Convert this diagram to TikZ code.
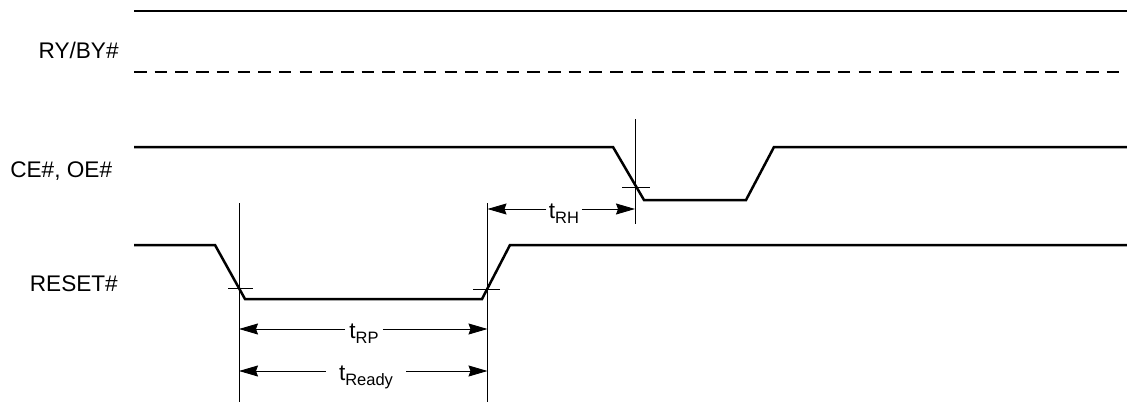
\documentclass[tikz,border=0pt]{standalone}
\usepackage{fontspec}
\setmainfont{Liberation Sans}
\usetikzlibrary{arrows.meta}
\newcommand{\tsub}[1]{t\raisebox{-5.5pt}{\fontsize{16.5}{18}\selectfont #1}}
\begin{document}
\begin{tikzpicture}[x=1pt,y=-1pt,
  sig/.style={line width=2.5pt, line join=miter},
  thinln/.style={line width=0.9pt},
  dim/.style={line width=0.9pt, -{Stealth[length=19pt,width=11pt,inset=2pt]}},
  lbl/.style={font=\fontsize{22.6}{27}\selectfont, anchor=base east, inner sep=0pt},
  tlbl/.style={font=\fontsize{22.6}{27}\selectfont, anchor=base, inner ysep=0pt}]
\useasboundingbox (0,0) rectangle (1127,404);

% signal names
\node[lbl] (ry) at (118.8,58.3) {RY/BY\#};
\node[lbl] (ce) at (112.3,177.3) {CE\#, OE\#};
\node[lbl] (rs) at (118,291.7) {RESET\#};

% waveforms
\draw[sig] (134,11) -- (1127,11);
\draw[sig, dash pattern=on 12.5pt off 8.2pt] (134,72) -- (1120,72);
\draw[sig] (134,147) -- (613,147) -- (644,200) -- (746,200) -- (774,147) -- (1127,147);
\draw[sig] (134,245) -- (215,245) -- (245,299) -- (482,299) -- (510,245) -- (1127,245);

% reference lines
\coordinate (v1t) at (239,203);  \coordinate (v1b) at (239,402);
\coordinate (v2t) at (487.5,203); \coordinate (v2b) at (487.5,402);
\coordinate (v3t) at (635,119);  \coordinate (v3b) at (635,224);
\draw[thinln] (v1t) -- (v1b);
\draw[thinln] (v2t) -- (v2b);
\draw[thinln] (v3t) -- (v3b);

% crossing ticks
\coordinate (k1a) at (228,288); \coordinate (k1b) at (253,288);
\coordinate (k2a) at (473,289); \coordinate (k2b) at (500,289);
\coordinate (k3a) at (622,187); \coordinate (k3b) at (650,187);
\draw[thinln] (k1a) -- (k1b);
\draw[thinln] (k2a) -- (k2b);
\draw[thinln] (k3a) -- (k3b);

% timing arrows
\coordinate (rpL) at (239,329);   \coordinate (rpR) at (487.5,329);
\coordinate (rdL) at (239,371);   \coordinate (rdR) at (487.5,371);
\coordinate (rhL) at (487.5,209); \coordinate (rhR) at (635,209);

\node[tlbl, inner xsep=4pt] (rp) at (364,338) {\tsub{RP}};
\node[tlbl, inner xsep=13pt] (rd) at (366,380) {\tsub{Ready}};
\node[tlbl, inner xsep=2.5pt] (rh) at (564,218) {\tsub{RH}};

\draw[dim] (rp.west |- rpL) -- (rpL);
\draw[dim] (rp.east |- rpR) -- (rpR);
\draw[dim] (rd.west |- rdL) -- (rdL);
\draw[dim] (rd.east |- rdR) -- (rdR);
\draw[dim] (rh.west |- rhL) -- (rhL);
\draw[dim] (rh.east |- rhR) -- (rhR);
\end{tikzpicture}
\end{document}
